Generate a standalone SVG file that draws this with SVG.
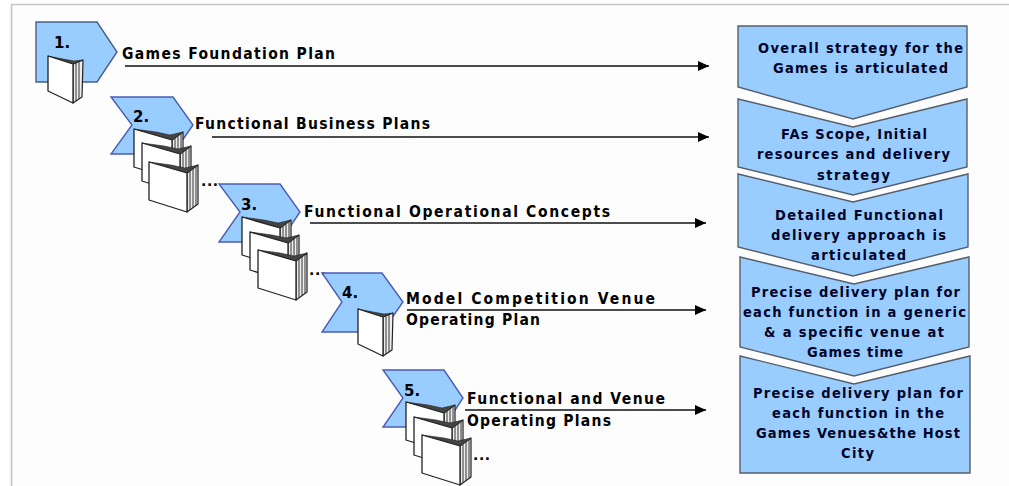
<svg xmlns="http://www.w3.org/2000/svg" width="1009" height="486" viewBox="0 0 1009 486">
<style>
text{font-family:"DejaVu Sans",Verdana,sans-serif;font-weight:bold;fill:#000}
.l{font-size:15.5px;font-stretch:condensed}
.n{font-size:15px}
.b{font-size:14.5px;font-stretch:condensed;fill:#000428}
.d{font-size:14px;letter-spacing:.6px}
.c{fill:#99ccff;stroke:#4b5cb4;stroke-width:1.4}
.r{fill:#99ccff;stroke:#555f6b;stroke-width:1.4}
.a{fill:none;stroke:#111;stroke-width:1.3;marker-end:url(#ah)}
.p{fill:#fff;stroke:#222;stroke-width:1.3;stroke-linejoin:round}
.s{fill:#eee;stroke:#222;stroke-width:1.2;stroke-linejoin:round}
.g{fill:none;stroke:#333;stroke-width:1}
.k{fill:#444;stroke:#222;stroke-width:.6}
</style>
<defs>
<marker id="ah" markerUnits="userSpaceOnUse" markerWidth="12" markerHeight="10" refX="11" refY="5" orient="auto"><path d="M0,0 L11,5 L0,10 Z" fill="#000"/></marker>
<g id="book1">
<path class="s" d="M25,8 L35,4 L34,41 L25,47 Z"/>
<path class="g" d="M28,7 L28,45 M31,6 L31,43"/>
<path class="k" d="M0,0 L15,3 L26,5 L35,4 L25,8 Z"/>
<path class="p" d="M0,0 L25,8 L25,47 L0,35 Z"/>
</g>
<g id="book3">
<path class="s" d="M38,11 L49,3 L49,42 L38,50 Z"/>
<path class="g" d="M41,9 L41,48 M44,7 L44,46 M47,5 L47,44"/>
<path class="k" d="M0,0 L22,3 L36,6 L49,3 L38,11 Z"/>
<path class="p" d="M0,0 L38,11 L38,50 L0,38 Z"/>
</g>
</defs>
<rect width="1009" height="486" fill="#fff"/>
<rect x="11" y="4" width="998" height="482" fill="#fdfdfd"/>
<path d="M11.5,486 V4.5 H1009" fill="none" stroke="#c4c4c4" stroke-width="1.6"/>
<g id="connectors">
<path class="a" d="M125,66 H709"/>
<path class="a" d="M212,137 H709"/>
<path class="a" d="M310,223 H706"/>
<path class="a" d="M407,310 H706"/>
<path class="a" d="M465,410 H706"/>
</g>
<g id="node1">
<path class="c" style="stroke:#4a5f85" d="M36,22 H97 L117,52 L97,82 H36 Z"/>
<use href="#book1" x="48" y="56"/>
<text class="n" x="54" y="48">1.</text>
<text class="l" x="122" y="59" textLength="213">Games Foundation Plan</text>
</g>
<g id="node2">
<path class="c" d="M111,97 H173 L193,125 L173,154 H111 L132,125 Z"/>
<text class="n" x="133" y="122">2.</text>
<use href="#book3" x="134" y="129"/>
<use href="#book3" x="142" y="143"/>
<use href="#book3" x="149" y="162"/>
<text class="d" x="201" y="186">...</text>
<text class="l" x="195" y="129" textLength="235">Functional Business Plans</text>
</g>
<g id="node3">
<path class="c" d="M219,184 H280 L300,212 L280,242 H219 L240,212 Z"/>
<text class="n" x="241" y="210">3.</text>
<use href="#book3" x="242" y="217"/>
<use href="#book3" x="250" y="232"/>
<use href="#book3" x="258" y="250"/>
<text class="d" x="309" y="275">...</text>
<text class="l" x="304" y="217" textLength="306">Functional Operational Concepts</text>
</g>
<g id="node4">
<path class="c" d="M322,273 H382 L403,302 L382,332 H322 L342,302 Z"/>
<text class="n" x="342" y="298">4.</text>
<use href="#book1" x="358" y="309"/>
<text class="l" x="406" y="304" textLength="249">Model Competition Venue</text>
<text class="l" x="406" y="325" textLength="134">Operating Plan</text>
</g>
<g id="node5">
<path class="c" d="M383,370 H444 L463,398 L444,427 H383 L403,398 Z"/>
<text class="n" x="404" y="396">5.</text>
<use href="#book3" x="406" y="402"/>
<use href="#book3" x="414" y="417"/>
<use href="#book3" x="422" y="435"/>
<text class="d" x="473" y="460">...</text>
<text class="l" x="467" y="404" textLength="198">Functional and Venue</text>
<text class="l" x="467" y="426" textLength="144">Operating Plans</text>
</g>
<g id="stage1"><path class="r" d="M738,26 H967 V87 L853,119 L738,87 Z"/></g>
<g id="stage2"><path class="r" d="M738,99 L853,127 L967,99 V167 L853,195 L738,167 Z"/></g>
<g id="stage3"><path class="r" d="M738,174 L853,202 L968,174 V247 L853,276 L738,247 Z"/></g>
<g id="stage4"><path class="r" d="M740,257 L854,284 L969,257 V347 L854,376 L740,347 Z"/></g>
<g id="stage5"><path class="r" d="M740,356 L854,384 L970,356 V473 H740 Z"/></g>
<g id="stage-text">
<text class="b" x="758" y="53" textLength="205">Overall strategy for the</text>
<text class="b" x="773" y="73" textLength="175">Games is articulated</text>
<text class="b" x="781" y="139" textLength="146">FAs Scope, Initial</text>
<text class="b" x="757" y="159" textLength="193">resources and delivery</text>
<text class="b" x="817" y="180" textLength="73">strategy</text>
<text class="b" x="775" y="220" textLength="168">Detailed Functional</text>
<text class="b" x="771" y="240" textLength="175">delivery approach is</text>
<text class="b" x="811" y="260" textLength="95">articulated</text>
<text class="b" x="751" y="297" textLength="209">Precise delivery plan for</text>
<text class="b" x="743" y="317" textLength="223">each function in a generic</text>
<text class="b" x="764" y="337" textLength="180">&amp; a specific venue at</text>
<text class="b" x="807" y="357" textLength="96">Games time</text>
<text class="b" x="753" y="398" textLength="210">Precise delivery plan for</text>
<text class="b" x="772" y="418" textLength="172">each function in the</text>
<text class="b" x="756" y="438" textLength="204">Games Venues&amp;the Host</text>
<text class="b" x="841" y="458" textLength="33">City</text>
</g>
</svg>
